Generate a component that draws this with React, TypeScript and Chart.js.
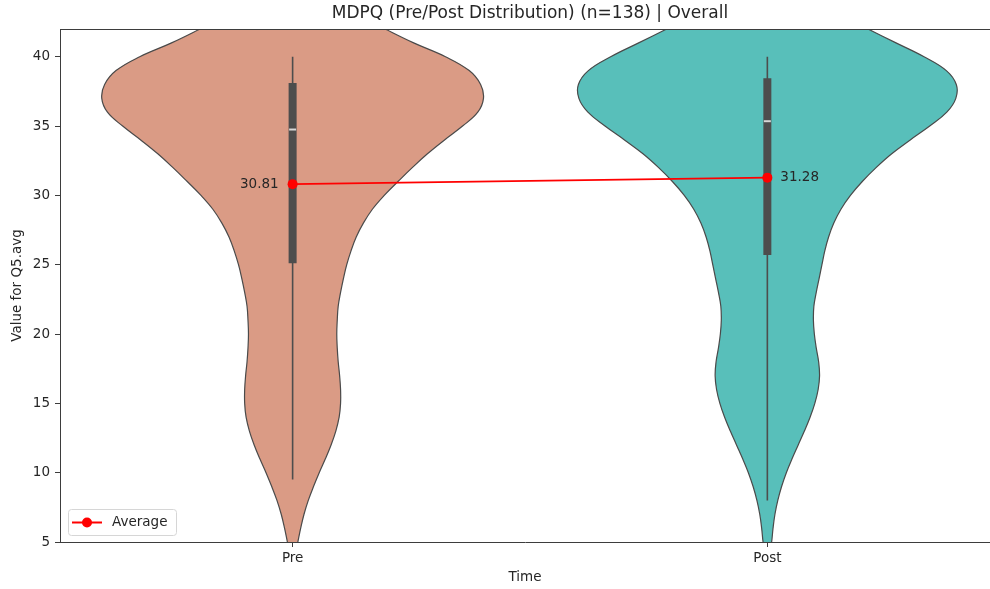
import { useEffect, useRef } from 'react';
import { Chart, registerables } from 'chart.js';

Chart.register(...registerables);

const TITLE = 'MDPQ (Pre/Post Distribution) (n=138) | Overall';
const X_TITLE = 'Time';
const Y_TITLE = 'Value for Q5.avg';
const LEGEND_LABEL = 'Average';

const categories = ['Pre', 'Post'];
const means = [30.81, 31.28];
const yTicks = [5, 10, 15, 20, 25, 30, 35, 40];
const Y_MIN = 5;
const Y_MAX = 42;

// Kernel density outline of each group: value levels and half-width (in category units)
const densityLevels = [4, 5, 6, 7, 8, 9, 10, 11, 12, 13, 14, 15, 16, 17, 18, 19, 20, 21, 22, 23, 24, 25, 26, 27, 28, 29, 30, 31, 32, 33, 34, 35, 36, 37, 38, 39, 40, 41, 42, 43, 44, 45, 46];
const preHalfWidth = [0.005, 0.011, 0.017, 0.024, 0.033, 0.044, 0.056, 0.069, 0.081, 0.091, 0.098, 0.101, 0.101, 0.099, 0.096, 0.094, 0.093, 0.094, 0.096, 0.101, 0.107, 0.114, 0.123, 0.134, 0.149, 0.168, 0.193, 0.222, 0.252, 0.284, 0.32, 0.358, 0.39, 0.402, 0.396, 0.372, 0.322, 0.255, 0.195, 0.137, 0.085, 0.046, 0.02];
const postHalfWidth = [0.004, 0.009, 0.012, 0.016, 0.022, 0.03, 0.04, 0.052, 0.065, 0.078, 0.09, 0.1, 0.107, 0.11, 0.108, 0.103, 0.099, 0.097, 0.098, 0.103, 0.109, 0.115, 0.121, 0.129, 0.14, 0.155, 0.175, 0.2, 0.229, 0.262, 0.301, 0.342, 0.378, 0.397, 0.398, 0.377, 0.33, 0.271, 0.212, 0.153, 0.098, 0.054, 0.022];

// Inner box statistics per group
const whiskerLow = [9.5, 8.0];
const quartile1 = [25.1, 25.7];
const medians = [34.75, 35.35];
const quartile3 = [38.1, 38.45];
const whiskerHigh = [40.0, 40.0];

const fillColors = ['#DA9B85', '#58BFBA'];
const EDGE = '#4a4a4a';
const BOX = '#4d4d4d';
const TEXT = '#262626';
const AXIS = '#3d3d3d';
const FONT = '"DejaVu Sans", sans-serif';

function violinOutline(center: number, levels: number[], half: number[]) {
  const right = levels.map((y, i) => ({ x: center + half[i], y }));
  const left = levels.map((y, i) => ({ x: center - half[i], y })).reverse();
  return [...right, ...left];
}

const violinData = [
  violinOutline(0, densityLevels, preHalfWidth),
  violinOutline(1, densityLevels, postHalfWidth),
];

const overlayPlugin = {
  id: 'overlay',
  afterDraw(chart: any) {
    const { ctx, chartArea, scales } = chart;
    const xs = scales.x;
    ctx.save();

    // top spine
    ctx.strokeStyle = AXIS;
    ctx.lineWidth = 1;
    ctx.beginPath();
    ctx.moveTo(chartArea.left, chartArea.top + 0.5);
    ctx.lineTo(chartArea.right, chartArea.top + 0.5);
    ctx.stroke();

    // title
    ctx.fillStyle = TEXT;
    ctx.font = `17px ${FONT}`;
    ctx.textAlign = 'center';
    ctx.textBaseline = 'middle';
    ctx.fillText(TITLE, xs.getPixelForValue(0.5), 14);

    // mean labels
    const meta = chart.getDatasetMeta(0);
    ctx.font = `13.5px ${FONT}`;
    meta.data.forEach((pt: any, i: number) => {
      const label = means[i].toFixed(2);
      if (i === 0) {
        ctx.textAlign = 'right';
        ctx.fillText(label, pt.x - 14, pt.y);
      } else {
        ctx.textAlign = 'left';
        ctx.fillText(label, pt.x + 13, pt.y);
      }
    });

    // legend box
    const bx = chartArea.left + 8;
    const by = chartArea.bottom - 33;
    const bw = 108;
    const bh = 26;
    ctx.fillStyle = 'rgba(255,255,255,0.85)';
    ctx.strokeStyle = '#d6d6d6';
    ctx.lineWidth = 1;
    ctx.beginPath();
    ctx.roundRect(bx + 0.5, by + 0.5, bw, bh, 3);
    ctx.fill();
    ctx.stroke();
    const ly = by + bh / 2 + 0.5;
    ctx.strokeStyle = 'red';
    ctx.lineWidth = 2;
    ctx.beginPath();
    ctx.moveTo(bx + 4, ly);
    ctx.lineTo(bx + 34, ly);
    ctx.stroke();
    ctx.fillStyle = 'red';
    ctx.beginPath();
    ctx.arc(bx + 19, ly, 5, 0, Math.PI * 2);
    ctx.fill();
    ctx.fillStyle = TEXT;
    ctx.textAlign = 'left';
    ctx.textBaseline = 'middle';
    ctx.font = `13.5px ${FONT}`;
    ctx.fillText(LEGEND_LABEL, bx + 44, ly);

    ctx.restore();
  },
};

export default function App() {
  const canvasRef = useRef<HTMLCanvasElement | null>(null);

  useEffect(() => {
    const canvas = canvasRef.current;
    if (!canvas) return;

    const datasets: any[] = [];

    datasets.push({
      label: LEGEND_LABEL,
      data: means.map((m, i) => ({ x: i, y: m })),
      borderColor: 'red',
      backgroundColor: 'red',
      borderWidth: 1.8,
      pointRadius: 5,
      pointBackgroundColor: 'red',
      pointBorderColor: 'red',
      pointBorderWidth: 0,
      tension: 0,
      order: 0,
    });

    categories.forEach((_, i) => {
      datasets.push({
        label: `median-${i}`,
        data: [{ x: i, y: medians[i] }],
        showLine: false,
        pointStyle: 'line',
        pointRadius: 3.5,
        pointBorderWidth: 2,
        pointBorderColor: '#d8d8d8',
        borderColor: '#d8d8d8',
        order: 1,
      });
      datasets.push({
        label: `box-${i}`,
        data: [{ x: i, y: quartile1[i] }, { x: i, y: quartile3[i] }],
        borderColor: BOX,
        borderWidth: 8,
        borderCapStyle: 'butt',
        pointRadius: 0,
        order: 2,
      });
      datasets.push({
        label: `whisker-${i}`,
        data: [{ x: i, y: whiskerLow[i] }, { x: i, y: whiskerHigh[i] }],
        borderColor: BOX,
        borderWidth: 1.6,
        borderCapStyle: 'butt',
        pointRadius: 0,
        order: 3,
      });
      datasets.push({
        label: `violin-${i}`,
        data: violinData[i],
        borderColor: EDGE,
        backgroundColor: fillColors[i],
        borderWidth: 1.2,
        fill: 'shape',
        tension: 0.4,
        pointRadius: 0,
        order: 4,
      });
    });

    const chart = new Chart(canvas, {
      type: 'line',
      data: { datasets },
      options: {
        animation: false,
        responsive: false,
        devicePixelRatio: 1,
        layout: { padding: { top: 29, left: 0, right: 0, bottom: 0 } },
        plugins: {
          legend: { display: false },
          title: { display: false },
          tooltip: { enabled: false },
        },
        scales: {
          x: {
            type: 'linear',
            min: -0.49,
            max: 1.469,
            afterBuildTicks: (scale: any) => {
              scale.ticks = categories.map((_, i) => ({ value: i }));
            },
            afterFit: (scale: any) => {
              scale.height = 47;
            },
            ticks: {
              callback: (v: any) => categories[Math.round(Number(v))] ?? '',
              color: TEXT,
              font: { family: FONT, size: 13.5 },
              padding: 3,
              maxRotation: 0,
              autoSkip: false,
            },
            grid: { drawOnChartArea: false, drawTicks: true, tickLength: 5, color: AXIS, lineWidth: 1 },
            border: { display: true, color: AXIS, width: 1 },
            title: {
              display: true,
              text: X_TITLE,
              color: TEXT,
              font: { family: FONT, size: 13.5 },
              padding: { top: 0, bottom: 3 },
            },
          },
          y: {
            type: 'linear',
            min: Y_MIN,
            max: Y_MAX,
            afterBuildTicks: (scale: any) => {
              scale.ticks = yTicks.map((v) => ({ value: v }));
            },
            afterFit: (scale: any) => {
              scale.width = 60;
            },
            ticks: {
              color: TEXT,
              font: { family: FONT, size: 13.5 },
              padding: 5,
            },
            grid: { drawOnChartArea: false, drawTicks: true, tickLength: 5, color: AXIS, lineWidth: 1 },
            border: { display: true, color: AXIS, width: 1 },
            title: {
              display: true,
              text: Y_TITLE,
              color: TEXT,
              font: { family: FONT, size: 13.5 },
              padding: { top: 9, bottom: 0 },
            },
          },
        },
      },
      plugins: [overlayPlugin],
    });

    return () => chart.destroy();
  }, []);

  return (
    <div style={{ position: 'absolute', left: 0, top: 0, width: 990, height: 589, overflow: 'hidden', background: '#fff' }}>
      <canvas ref={canvasRef} width={996} height={589} style={{ width: 996, height: 589, display: 'block' }} />
    </div>
  );
}
